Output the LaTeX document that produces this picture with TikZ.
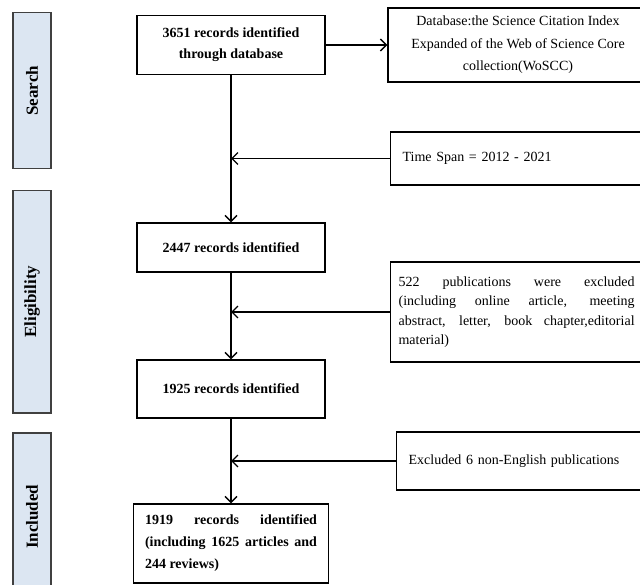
\documentclass[tikz,border=0pt]{standalone}
\usepackage{fontspec}
\setmainfont{Liberation Serif}
\usetikzlibrary{arrows.meta, positioning}
\definecolor{stagefill}{HTML}{DCE6F2}

\begin{document}
\begin{tikzpicture}[x=1pt, y=-1pt,
    font=\fontsize{14}{21}\selectfont,
    stage/.style={draw=black!75, line width=1.5pt, fill=stagefill, rotate=90,
      minimum height=38pt, anchor=east, font=\fontsize{17}{21}\selectfont\bfseries},
    record/.style={draw, line width=1.2pt, minimum width=188pt, align=center,
      font=\fontsize{14}{21}\selectfont\bfseries},
    source/.style={draw, line width=1.2pt, anchor=west, align=left, inner xsep=12pt},
    flow/.style={line width=1.4pt, -{Straight Barb[length=6pt,width=12pt]}}]
  \useasboundingbox (0,0) rectangle (640,585);

  \foreach \name/\top/\bot in {Search/12/168, Eligibility/190/412, Included/432/600}{
    \pgfmathsetmacro\len{\bot-\top}
    \node[stage, minimum width=\len pt] (\name) at (32,\top) {\name};
  }

  \node[record, minimum height=59pt] (rec1) at (231,45) {3651 records identified\\through database};
  \node[record, minimum height=49pt] (rec2) at (231,247.5) {2447 records identified};
  \node[record, minimum height=58pt] (rec3) at (231,389) {1925 records identified};
  \node[record, minimum width=195pt, minimum height=79pt, text width=172pt, align=justify,
    font=\fontsize{14}{22}\selectfont\bfseries] (rec4) at (231,543.5)
    {1919 records identified\linebreak (including 1625 articles and\linebreak 244 reviews)};

  \node[source, anchor=center, align=center, minimum width=260pt, minimum height=74pt,
    font=\fontsize{14}{22.5}\selectfont] (db) at (518,45)
    {Database:the Science Citation Index\\Expanded of the Web of Science Core\\collection(WoSCC)};
  \node[source, minimum height=53pt, text width=236pt] (span) at (390,158.5) {Time Span = 2012 - 2021};
  \node[source, inner xsep=8pt, text width=236pt, align=justify, minimum height=100pt,
    font=\fontsize{14}{19.5}\selectfont] (excl1) at (390,312)
    {522 publications were excluded\linebreak (including online article, meeting\linebreak
     abstract, letter, book chapter,editorial\linebreak material)};
  \node[source, minimum height=58pt, text width=240pt] (excl2) at (396,461) {Excluded 6 non-English publications};

  \coordinate (j1) at (rec1 |- span);
  \coordinate (j2) at (rec1 |- excl1);
  \coordinate (j3) at (rec1 |- excl2);

  \draw[flow] (rec1) -- (db);
  \foreach \a/\b in {rec1/rec2, rec2/rec3, rec3/rec4}{
    \draw[flow] (\a) -- (\b);
  }
  \foreach \a/\b in {span/j1, excl1/j2, excl2/j3}{
    \draw[flow] (\a) -- (\b);
  }
\end{tikzpicture}
\end{document}
